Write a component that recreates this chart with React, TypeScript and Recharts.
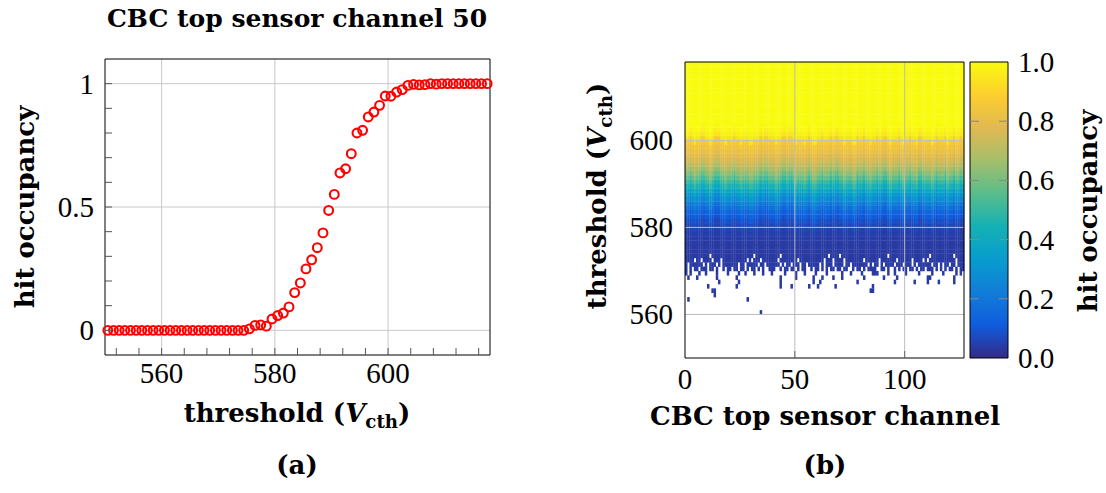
import { ScatterChart, Scatter, XAxis, YAxis, CartesianGrid, ReferenceLine, ReferenceArea, BarChart, Bar } from "recharts";

// threshold rows (Vcth) and sensor channels
const thresholds = Array.from({ length: 68 }, (_, i) => 550 + i);
const channels = Array.from({ length: 127 }, (_, i) => i);

// (a) hit occupancy of channel 50 per threshold, 550..617
const channel50Occupancy = [
  0, 0, 0, 0, 0, 0, 0, 0, 0, 0,
  0, 0, 0, 0, 0, 0, 0, 0, 0, 0,
  0, 0, 0, 0, 0, 0.006, 0.02, 0.022, 0.017, 0.046,
  0.06, 0.07, 0.095, 0.153, 0.192, 0.249, 0.286, 0.335, 0.395, 0.486,
  0.551, 0.638, 0.655, 0.716, 0.8, 0.811, 0.865, 0.885, 0.912, 0.95,
  0.949, 0.966, 0.976, 0.993, 0.997, 0.995, 0.996, 1, 0.998, 1,
  1, 1, 1, 1, 1, 1, 1, 1,
];

// (b) typical occupancy per threshold row across the sensor, 550..617
const meanOccupancy = [
  0.035, 0.035, 0.035, 0.035, 0.035, 0.035, 0.035, 0.035, 0.035, 0.035,
  0.035, 0.035, 0.035, 0.035, 0.035, 0.035, 0.035, 0.035, 0.035, 0.035,
  0.035, 0.035, 0.035, 0.035, 0.035, 0.035, 0.037, 0.04, 0.045, 0.05,
  0.065, 0.085, 0.11, 0.14, 0.18, 0.23, 0.28, 0.33, 0.39, 0.45,
  0.51, 0.57, 0.63, 0.68, 0.72, 0.76, 0.79, 0.82, 0.84, 0.86,
  0.94, 0.97, 0.99, 1, 1, 1, 1, 1, 1, 1,
  1, 1, 1, 1, 1, 1, 1, 1,
];

// per-channel turn-on shift in threshold rows (the vertical stripes)
const channelShift = [
  0, 0, 1, 0, -1, 0, 0, 1, 1, 0,
  0, -1, 0, 1, 1, 1, 0, 0, -1, 0,
  0, 0, 1, 0, 0, -1, 0, 0, 0, -1,
  -1, 0, 0, 0, 1, 0, 1, 1, 0, 0,
  0, -1, 0, 0, 1, 1, 0, 1, 1, 0,
  -1, 0, 0, 0, -1, 0, 1, 0, -1, -1,
  0, 0, 1, 0, 0, 0, 1, 0, 1, 1,
  0, 0, -1, 0, 0, 0, -1, -1, 1, 0,
  0, 1, 0, 0, -1, 0, 0, 1, 0, 0,
  1, 1, 0, -1, 0, 0, 0, 1, 0, -1,
  0, 0, 1, 0, 0, -1, 1, 1, 0, 0,
  0, 0, -1, 0, 1, 0, 0, 0, 1, -1,
  0, 0, 1, 0, 0, 1, 0,
];

// noise edge rows: '#' = channel has hits at this threshold
const partialRows: Record<number, string> = {
  573: "########## #.######## ########## #.######## ###.###### ########## #####.#### .######### ########## ##.####### ########## #.######## ##.####",
  572: "####.##.## ##.###.### ########.# .###.##### ##.####### #.######## ###.###.## ##.####### #.######.# ######.### ###.####.# .######### ###.###",
  571: "#.######.# .###.#.### ####.##.## ###.##.### ###.#.##.# ##.##.#### #.#.###.## ##.##.#### ###.#.##.# .####.###. ###.#.#### ##.##.#.## .##.###",
  570: "#.#.##.### .##.#..#.# #.##.##.#. ##.#.#..## #..#.##.## .#.##..#.# #.#.#.##.# #.##..#.## .#.####..# #.#..#.#.# #.##.#.##. ###.#.#.#. ##.#.##",
};

// isolated noise hits below the edge: threshold -> channels
const strayHits: Record<number, number[]> = {
  569: [0, 2, 6, 9, 14, 19, 24, 27, 31, 35, 39, 45, 50, 54, 59, 64, 71, 75, 80, 85, 86, 87, 92, 95, 100, 106, 112, 117, 123, 125],
  568: [1, 5, 14, 23, 43, 50, 58, 62, 67, 71, 81, 90, 96, 110, 111, 122],
  567: [15, 24, 43, 58, 61, 78, 95, 104, 110, 115, 122],
  566: [10, 23, 43, 48, 56, 60, 68, 85],
  565: [12, 13, 84, 85],
  564: [13],
  563: [1, 28],
  560: [34],
};

const xTicksA = [552, 556, 560, 564, 568, 572, 576, 580, 584, 588, 592, 596, 600, 604, 608, 612, 616];
const xLabelsA = [560, 580, 600];
const yTicksA = [0, 0.1, 0.2, 0.3, 0.4, 0.5, 0.6, 0.7, 0.8, 0.9, 1];
const yLabelsA = [0, 0.5, 1];
const xLabelsB = [0, 50, 100];
const yLabelsB = [560, 580, 600];
const colorbarTicks = [0, 0.2, 0.4, 0.6, 0.8, 1];

const parulaStops = [
  [53, 42, 135], [15, 92, 221], [18, 125, 216], [7, 156, 207], [21, 177, 180],
  [89, 189, 140], [165, 190, 107], [225, 185, 82], [252, 206, 46], [249, 251, 14],
];

function parula(v: number) {
  const t = Math.max(0, Math.min(1, v)) * 9;
  const i = Math.min(8, Math.floor(t));
  const f = t - i;
  const a = parulaStops[i];
  const b = parulaStops[i + 1];
  const c = a.map((av, k) => Math.round(av + (b[k] - av) * f));
  return `rgb(${c[0]},${c[1]},${c[2]})`;
}

const pointsA = channel50Occupancy.map((occ, i) => ({ vcth: thresholds[i] + 0.5, occ }));

const heatCells: { ch: number; vcth: number; occ: number }[] = [];
channels.forEach((ch, c) => {
  thresholds.forEach((v, r) => {
    let hit = false;
    if (v >= 574) hit = true;
    else if (partialRows[v]) hit = partialRows[v].replace(/ /g, "")[c] === "#";
    else if (strayHits[v]) hit = strayHits[v].includes(ch);
    if (!hit) return;
    const idx = Math.max(0, Math.min(thresholds.length - 1, r - channelShift[c]));
    heatCells.push({ ch: ch + 0.5, vcth: v + 0.5, occ: meanOccupancy[idx] });
  });
});

const AXIS_FONT = "'Liberation Serif', 'DejaVu Serif', serif";
const LABEL_FONT = "'DejaVu Serif', serif";
const CELL_W = (964 - 685) / 127;
const CELL_H = (358 - 62) / 68;

const RingDot = (props: any) => (
  <circle cx={props.cx} cy={props.cy} r={4.4} fill="none" stroke="#ff0000" strokeWidth={2.1} />
);

const HeatCell = (props: any) => (
  <rect
    x={props.cx - CELL_W / 2}
    y={props.cy - CELL_H / 2}
    width={CELL_W + 0.3}
    height={CELL_H + 0.3}
    fill={parula(props.payload.occ)}
  />
);

const tickText = { fontFamily: AXIS_FONT, fontSize: 29 };

function XTickA(props: any) {
  const { x, y, payload } = props;
  const major = xLabelsA.includes(payload.value);
  return (
    <g>
      <line x1={x} y1={y} x2={x} y2={y - 7} stroke="#555" />
      {major && (
        <text x={x} y={y + 28} textAnchor="middle" style={tickText} fill="#000">
          {payload.value}
        </text>
      )}
    </g>
  );
}

function YTickA(props: any) {
  const { x, y, payload } = props;
  const major = yLabelsA.includes(payload.value);
  return (
    <g>
      <line x1={x} y1={y} x2={x + 7} y2={y} stroke="#555" />
      {major && (
        <text x={x - 11} y={y} textAnchor="end" dominantBaseline="central" style={tickText} fill="#000">
          {payload.value}
        </text>
      )}
    </g>
  );
}

function XTickB(props: any) {
  const { x, y, payload } = props;
  return (
    <g>
      {payload.value > 0 && <line x1={x} y1={y} x2={x} y2={y - 7} stroke="#666" />}
      <text x={x} y={y + 31} textAnchor="middle" style={tickText} fill="#000">
        {payload.value}
      </text>
    </g>
  );
}

function YTickB(props: any) {
  const { x, y, payload } = props;
  return (
    <text x={x - 12} y={y} textAnchor="end" dominantBaseline="central" style={tickText} fill="#000">
      {payload.value}
    </text>
  );
}

function ColorbarTick(props: any) {
  const { x, y, payload } = props;
  return (
    <text x={x + 10} y={y} textAnchor="start" dominantBaseline="central" style={tickText} fill="#000">
      {payload.value.toFixed(1)}
    </text>
  );
}

function FigText({ x, y, rotate, size = 26, children }: any) {
  return (
    <div
      style={{
        position: "absolute",
        left: x,
        top: y,
        transform: `translate(-50%, -50%)${rotate ? " rotate(-90deg)" : ""}`,
        whiteSpace: "nowrap",
        fontFamily: LABEL_FONT,
        fontWeight: 700,
        fontSize: size,
        lineHeight: 1,
        color: "#000",
      }}
    >
      {children}
    </div>
  );
}

const thresholdLabel = (
  <span>
    threshold (<i>V</i>
    <sub style={{ fontSize: "0.7em" }}>cth</sub>)
  </span>
);

export default function App() {
  return (
    <div style={{ position: "absolute", left: 0, top: 0, width: 1106, height: 493, background: "#fff" }}>
      <svg width={0} height={0} style={{ position: "absolute" }}>
        <defs>
          <linearGradient id="parulaGrad" x1="0" y1="1" x2="0" y2="0">
            {parulaStops.map((c, i) => (
              <stop key={i} offset={i / 9} stopColor={`rgb(${c[0]},${c[1]},${c[2]})`} />
            ))}
          </linearGradient>
        </defs>
      </svg>

      {/* (a) S-curve of one channel */}
      <div style={{ position: "absolute", left: 0, top: 0 }}>
        <ScatterChart width={520} height={493} margin={{ top: 59, right: 30, bottom: 98, left: 55 }}>
          <CartesianGrid verticalValues={xLabelsA} horizontalValues={yLabelsA} stroke="#c8c8c8" />
          <XAxis
            type="number"
            dataKey="vcth"
            domain={[550, 618]}
            ticks={xTicksA}
            interval={0}
            height={40}
            axisLine={false}
            tickLine={false}
            tickSize={0}
            tickMargin={0}
            tick={<XTickA />}
          />
          <YAxis
            type="number"
            dataKey="occ"
            domain={[-0.1, 1.1]}
            ticks={yTicksA}
            interval={0}
            width={50}
            axisLine={false}
            tickLine={false}
            tickSize={0}
            tickMargin={0}
            tick={<YTickA />}
          />
          <ReferenceArea x1={550} x2={618} y1={-0.1} y2={1.1} fill="none" stroke="#000" strokeWidth={1} />
          <Scatter data={pointsA} shape={RingDot} isAnimationActive={false} />
        </ScatterChart>
      </div>

      {/* (b) occupancy map over all channels */}
      <div style={{ position: "absolute", left: 560, top: 0 }}>
        <ScatterChart width={420} height={493} margin={{ top: 62, right: 16, bottom: 95, left: 65 }}>
          <XAxis
            type="number"
            dataKey="ch"
            domain={[0, 127]}
            ticks={xLabelsB}
            interval={0}
            height={40}
            axisLine={false}
            tickLine={false}
            tickSize={0}
            tickMargin={0}
            tick={<XTickB />}
          />
          <YAxis
            type="number"
            dataKey="vcth"
            domain={[550, 618]}
            ticks={yLabelsB}
            interval={0}
            width={60}
            axisLine={false}
            tickLine={false}
            tickSize={0}
            tickMargin={0}
            tick={<YTickB />}
          />
          <Scatter data={heatCells} shape={HeatCell} isAnimationActive={false} />
          {xLabelsB.slice(1).map((v) => (
            <ReferenceLine key={`x${v}`} x={v} stroke="#bcbcbc" strokeWidth={1} zIndex={700} />
          ))}
          {yLabelsB.map((v) => (
            <ReferenceLine key={`y${v}`} y={v} stroke="#bcbcbc" strokeWidth={1} zIndex={700} />
          ))}
          <ReferenceArea x1={0} x2={127} y1={550} y2={618} fill="none" stroke="#000" strokeWidth={1} zIndex={700} />
        </ScatterChart>
      </div>

      {/* colour bar */}
      <div style={{ position: "absolute", left: 940, top: 0 }}>
        <BarChart
          width={166}
          height={493}
          data={[{ name: "bar", value: 1 }]}
          margin={{ top: 62, right: 38, bottom: 135, left: 30 }}
          barCategoryGap={0}
        >
          <XAxis dataKey="name" hide />
          <YAxis
            orientation="right"
            type="number"
            domain={[0, 1]}
            ticks={colorbarTicks}
            interval={0}
            width={60}
            axisLine={false}
            tickLine={false}
            tickSize={0}
            tickMargin={0}
            tick={<ColorbarTick />}
          />
          <Bar dataKey="value" fill="url(#parulaGrad)" stroke="#000" strokeWidth={1} isAnimationActive={false} />
          {colorbarTicks.slice(1, -1).map((v) => (
            <ReferenceLine key={v} y={v} stroke="#888" strokeDasharray="9 20 9" zIndex={700} />
          ))}
        </BarChart>
      </div>

      <FigText x={297} y={18} size={25}>CBC top sensor channel 50</FigText>
      <FigText x={25} y={207} rotate>hit occupancy</FigText>
      <FigText x={297} y={416}>{thresholdLabel}</FigText>
      <FigText x={297} y={465}>(a)</FigText>

      <FigText x={600} y={196} rotate>{thresholdLabel}</FigText>
      <FigText x={825} y={416}>CBC top sensor channel</FigText>
      <FigText x={825} y={465}>(b)</FigText>
      <FigText x={1088} y={211} rotate>hit occupancy</FigText>
    </div>
  );
}
